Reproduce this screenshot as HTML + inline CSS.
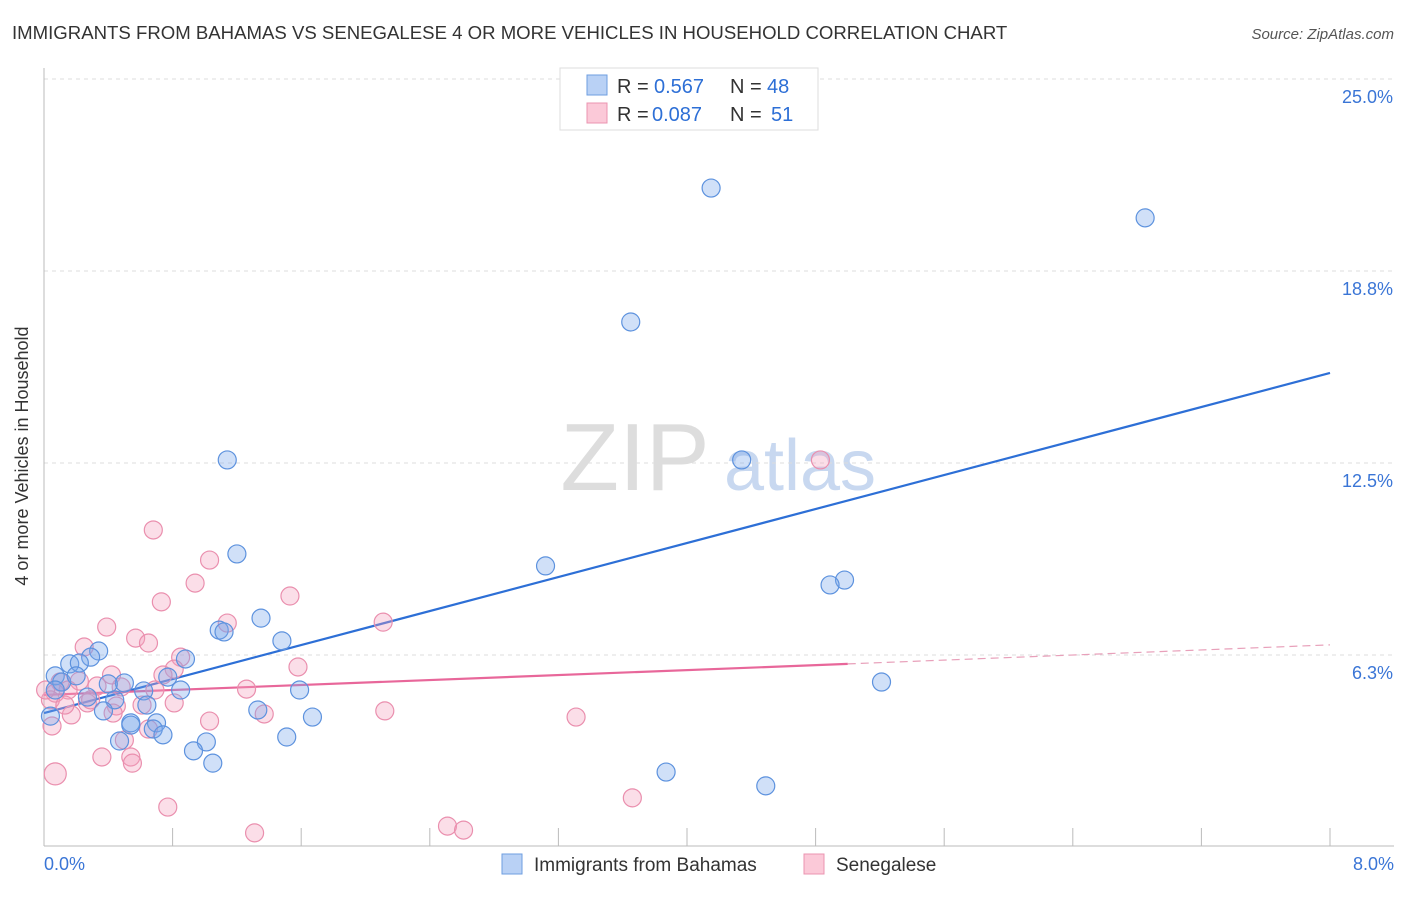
<!DOCTYPE html>
<html><head><meta charset="utf-8"><style>
body{margin:0;background:#fff;font-family:"Liberation Sans",sans-serif;}
svg text{font-family:"Liberation Sans",sans-serif;}
</style></head><body>
<svg id="c" width="1406" height="892">
<text x="12" y="39" font-size="18.6" fill="#333">IMMIGRANTS FROM BAHAMAS VS SENEGALESE 4 OR MORE VEHICLES IN HOUSEHOLD CORRELATION CHART</text>
<text x="1394" y="39" font-size="15" fill="#555" font-style="italic" text-anchor="end">Source: ZipAtlas.com</text>
<text x="28" y="456" font-size="18" fill="#333" text-anchor="middle" transform="rotate(-90 28 456)">4 or more Vehicles in Household</text>
<g><text x="635" y="490" font-size="96" fill="#ddd" font-family="Liberation Serif" text-anchor="middle">ZIP</text><text x="800" y="490" font-size="72" fill="#c8d8f0" text-anchor="middle">atlas</text></g>
<g id="grid"></g><g id="axes"></g><g id="lines"></g><g id="pts"></g>
<g>
<rect x="560" y="68" width="258" height="62" fill="#fff" stroke="#ddd"/>
<rect x="587" y="75" width="20" height="20" fill="#b9d1f5" stroke="#6e9ee0"/>
<rect x="587" y="103" width="20" height="20" fill="#fbc9d8" stroke="#eb94b0"/>
<text x="617" y="93" font-size="20" fill="#333">R =</text>
<text x="654" y="93" font-size="20" fill="#2d6fd6">0.567</text>
<text x="730" y="93" font-size="20" fill="#333">N =</text>
<text x="767" y="93" font-size="20" fill="#2d6fd6">48</text>
<text x="617" y="121" font-size="20" fill="#333">R =</text>
<text x="652" y="121" font-size="20" fill="#2d6fd6">0.087</text>
<text x="730" y="121" font-size="20" fill="#333">N =</text>
<text x="771" y="121" font-size="20" fill="#2d6fd6">51</text>
</g>
<g>
<rect x="502" y="854" width="20" height="20" fill="#b9d1f5" stroke="#6e9ee0"/>
<text x="534" y="871" font-size="19" fill="#333">Immigrants from Bahamas</text>
<rect x="804" y="854" width="20" height="20" fill="#fbc9d8" stroke="#eb94b0"/>
<text x="836" y="871" font-size="19" fill="#333">Senegalese</text>
</g>
</svg>
<script>
const xTicks=[0,0.8,1.6,2.4,3.2,4.0,4.8,5.6,6.4,7.2,8.0];
const yTicks=[6.25,12.5,18.75,25];
const yTickLabels=["6.3%","12.5%","18.8%","25.0%"];
const blueX=[4.15,6.85,3.65,1.14,4.34,1.20,3.12,4.98,4.89,1.35,1.09,1.12,1.48,0.88,0.34,0.29,0.16,0.22,0.07,0.11,0.20,0.50,0.40,0.77,0.85,0.62,1.59,5.21,0.27,0.44,0.64,1.33,0.37,0.04,1.67,0.54,0.70,0.68,0.74,1.51,0.47,1.01,0.93,1.05,3.87,4.49,0.07,0.54];
const blueY=[21.45,20.48,17.09,12.60,12.60,9.54,9.15,8.69,8.53,7.45,7.06,7.00,6.71,6.12,6.38,6.18,5.96,5.99,5.57,5.37,5.57,5.34,5.31,5.53,5.11,5.08,5.11,5.37,4.88,4.79,4.62,4.46,4.43,4.26,4.23,4.04,4.04,3.84,3.65,3.58,3.45,3.42,3.13,2.73,2.44,1.99,5.11,3.97];
const pinkX=[4.83,0.68,1.03,0.94,0.73,1.53,1.14,0.39,2.11,0.57,0.65,0.25,0.85,1.58,0.81,0.42,0.74,0.10,0.22,0.33,0.69,1.26,0.15,0.48,0.07,0.27,0.61,0.81,0.45,0.17,0.43,1.37,2.12,3.31,1.03,0.05,0.65,0.50,0.36,0.54,0.55,0.07,0.77,3.66,1.31,2.51,2.61,0.04,0.13,0.29,0.01];
const pinkY=[12.60,10.32,9.34,8.59,7.98,8.17,7.29,7.16,7.32,6.80,6.64,6.51,6.18,5.86,5.79,5.60,5.60,5.37,5.40,5.24,5.11,5.14,5.11,5.21,5.01,4.69,4.62,4.69,4.59,4.30,4.36,4.33,4.43,4.23,4.10,3.94,3.84,3.48,2.93,2.93,2.73,2.38,1.30,1.60,0.46,0.68,0.55,4.79,4.62,4.79,5.11];
const blueTrend=[[0,4.36],[8,15.43]];
const pinkTrend=[[0,4.95],[5.0,5.96],[8,6.58]];
const NS="http://www.w3.org/2000/svg";
const X=v=>44+v/8*1286, Y=v=>847-v*30.72;
function mk(t,a,p){const e=document.createElementNS(NS,t);for(const k in a)e.setAttribute(k,a[k]);p.appendChild(e);return e;}
const grid=document.getElementById('grid'),axes=document.getElementById('axes'),lines=document.getElementById('lines'),pts=document.getElementById('pts');
yTicks.forEach((v,i)=>{
 const l=mk('line',{x1:44,x2:1394,y1:Y(v),y2:Y(v),stroke:'#ddd','stroke-dasharray':'4,4'},grid);
 
 
 const t=mk('text',{x:1393,y:Y(v)+24,'font-size':18,fill:'#3a75d6','text-anchor':'end'},axes);
 t.textContent=yTickLabels[i];
 
 
});
const ax=mk('line',{x1:44,x2:44,y1:68,y2:846,stroke:'#bbb'},axes);


const bx=mk('line',{x1:44,x2:1394,y1:846,y2:846,stroke:'#bbb'},axes);


xTicks.forEach((v,i)=>{if(i==0)return;
 const t=mk('line',{x1:X(v),x2:X(v),y1:828,y2:846,stroke:'#bbb'},axes);
 
 
});
const xl0=mk('text',{x:44,y:870,'font-size':18,fill:'#3a75d6'},axes);xl0.textContent="0.0%";


const xl1=mk('text',{x:1394,y:870,'font-size':18,fill:'#3a75d6','text-anchor':'end'},axes);xl1.textContent="8.0%";


function dot(x,y,f,s,n,r){const c=mk('circle',{cx:X(x),cy:Y(y),r:r,fill:f,stroke:s,'stroke-width':1.2},pts);
 
 }
pinkX.forEach((x,i)=>dot(x,pinkY[i],'rgba(244,160,188,0.35)','#ea8fae','point-senegalese',i==41?11:9));
blueX.forEach((x,i)=>dot(x,blueY[i],'rgba(120,165,235,0.35)','#5d92de','point-bahamas',9));
const bl=mk('line',{x1:X(blueTrend[0][0]),y1:Y(blueTrend[0][1]),x2:X(blueTrend[1][0]),y2:Y(blueTrend[1][1]),stroke:'#2d6fd6','stroke-width':2.2},lines);


const pl=mk('line',{x1:X(pinkTrend[0][0]),y1:Y(pinkTrend[0][1]),x2:X(pinkTrend[1][0]),y2:Y(pinkTrend[1][1]),stroke:'#e8679a','stroke-width':2.2},lines);


const pd=mk('line',{x1:X(pinkTrend[1][0]),y1:Y(pinkTrend[1][1]),x2:X(pinkTrend[2][0]),y2:Y(pinkTrend[2][1]),stroke:'#e8a0ba','stroke-width':1.2,'stroke-dasharray':'8,5'},lines);


</script>
</body></html>
